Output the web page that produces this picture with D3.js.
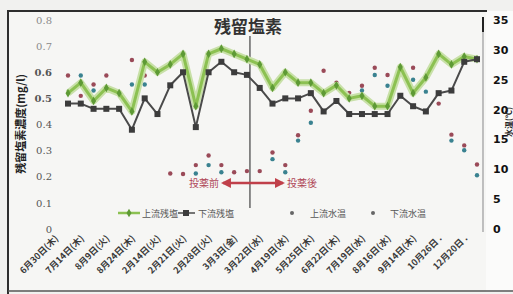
<!DOCTYPE html>
<html>
<head>
<meta charset="utf-8">
<script src="https://cdn.jsdelivr.net/npm/d3@7"></script>
<style>
  html, body { margin: 0; padding: 0; background: #f1f1ef; }
  svg { display: block; }
</style>
</head>
<body>
<svg id="chart" width="513" height="294"></svg>
<script>
// tick labels, shown on every second point
var tickLabels = ["6月30日(木)", "7月14日(木)", "8月9日(火)", "8月24日(木)", "2月14日(火)", "2月21日(火)",
  "2月28日(火)", "3月3日(金)", "3月22日(水)", "4月19日(水)", "5月25日(木)", "6月22日(木)",
  "7月19日(水)", "8月16日(水)", "9月14日(木)", "10月26日 .", "12月20日 ."];

// residual chlorine (mg/l)
var chlorUp = [0.52, 0.56, 0.49, 0.54, 0.52, 0.45, 0.64, 0.60, 0.63, 0.67, 0.47, 0.67, 0.69, 0.67, 0.65, 0.63, 0.54,
  0.60, 0.56, 0.56, 0.52, 0.55, 0.50, 0.51, 0.47, 0.47, 0.62, 0.52, 0.58, 0.67, 0.63, 0.66, 0.65];
var chlorDown = [0.48, 0.48, 0.46, 0.46, 0.46, 0.38, 0.50, 0.44, 0.55, 0.60, 0.39, 0.60, 0.64, 0.60, 0.59, 0.54, 0.48,
  0.50, 0.50, 0.52, 0.45, 0.49, 0.44, 0.44, 0.44, 0.44, 0.51, 0.47, 0.45, 0.52, 0.53, 0.64, 0.65];

// water temperature (deg C), null = not measured
var tempUp = [25.7, 22.3, 24.2, 25.7, null, 28.3, 25.7, null, 9.3, 9.2, 10.7, 12.3, 10.7, 9.5, 9.7, 9.7, 12.8,
  10.7, 15.7, 19.8, 26.5, 24.5, 22.8, 24.0, 27.0, 25.8, null, 27.0, null, 21.0, 15.8, 14.0, 10.8];
var tempDown = [null, 25.7, 23.2, null, null, 24.2, 24.2, null, null, null, 9.3, 10.7, 9.5, null, null, null, 11.7,
  9.5, 14.8, 17.8, null, null, null, 23.2, 25.8, 24.0, null, 25.0, 23.0, null, 14.8, 13.2, 9.0];

var leftTicks = [0, 0.1, 0.2, 0.3, 0.4, 0.5, 0.6, 0.7, 0.8];
var rightTicks = [0, 5, 10, 15, 20, 25, 30, 35];
var dosingIndex = 14; // 3月3日

var svg = d3.select("#chart");

// frame
svg.append("rect").attr("x", 8).attr("y", 11).attr("width", 505).attr("height", 281).attr("fill", "#f6f6f4");
svg.append("rect").attr("x", 486).attr("y", 11).attr("width", 27).attr("height", 281).attr("fill", "#fbfbfa");
svg.append("path").attr("d", "M8,294 V11 H487").attr("fill", "none").attr("stroke", "#2e2e2e").attr("stroke-width", 2);
svg.append("line").attr("x1", 8).attr("x2", 513).attr("y1", 291).attr("y2", 291).attr("stroke", "#555").attr("stroke-width", 1.5);

var idx = d3.range(chlorUp.length);
var x = d3.scalePoint().domain(idx).range([68, 477]);
var yL = d3.scaleLinear().domain([0, 0.8]).range([229, 20]);
var yR = d3.scaleLinear().domain([0, 35]).range([229, 20]);

// left axis
var axL = svg.append("g").attr("transform", "translate(56,0)")
  .call(d3.axisLeft(yL).tickValues(leftTicks).tickSize(0).tickPadding(4)
    .tickFormat(function (d) { return d === 0 ? "0" : d3.format(".1f")(d); }));
axL.select(".domain").remove();
axL.selectAll("text").attr("font-family", "'DejaVu Serif', serif").attr("font-size", 10)
  .attr("fill", function (d) { return d >= 0.7 ? "#8a8a8a" : "#555"; })
  .attr("font-weight", function (d) { return d === 0.5 || d === 0.6 ? "bold" : "normal"; });

svg.append("text").attr("transform", "translate(25,124) rotate(-90)")
  .attr("text-anchor", "middle").attr("font-family", "'Noto Sans CJK JP', sans-serif")
  .attr("font-size", 11).attr("font-weight", "bold").attr("fill", "#222")
  .text("残留塩素濃度(mg/l)");

// right axis
svg.append("line").attr("x1", 483).attr("x2", 483).attr("y1", 18).attr("y2", 232).attr("stroke", "#9a9a9a").attr("stroke-width", 1.2);
svg.append("line").attr("x1", 483).attr("x2", 483).attr("y1", 17).attr("y2", 32).attr("stroke", "#222").attr("stroke-width", 2);
var axR = svg.append("g").attr("transform", "translate(489,0)")
  .call(d3.axisRight(yR).tickValues(rightTicks).tickSize(0).tickPadding(4));
axR.select(".domain").remove();
axR.selectAll("text").attr("font-family", "'DejaVu Sans', sans-serif").attr("font-size", 11)
  .attr("font-weight", "bold").attr("fill", "#111");

svg.append("text").attr("transform", "translate(512,122) rotate(-90)")
  .attr("text-anchor", "middle").attr("font-family", "'Noto Sans CJK JP', sans-serif")
  .attr("font-size", 8).attr("font-weight", "bold").attr("fill", "#222")
  .text("水温(℃)");

// x tick labels
svg.append("g").selectAll("text").data(tickLabels).join("text")
  .attr("transform", function (d, i) { return "translate(" + (x(i * 2) - 9) + ",239) rotate(-45)"; })
  .attr("text-anchor", "end").attr("font-family", "'Noto Sans CJK JP', sans-serif")
  .attr("font-size", 9).attr("font-weight", "bold").attr("fill", "#3a3a3a")
  .text(function (d) { return d; });

// title
svg.append("text").attr("x", 248).attr("y", 33).attr("text-anchor", "middle")
  .attr("font-family", "'Noto Sans CJK JP', sans-serif").attr("font-size", 17).attr("font-weight", "bold")
  .attr("fill", "#333").text("残留塩素");

// dosing marker line
svg.append("line").attr("x1", x(dosingIndex) + 3).attr("x2", x(dosingIndex) + 3).attr("y1", 36).attr("y2", 208)
  .attr("stroke", "#666").attr("stroke-width", 1.5);

// water temperature points
function tempDots(data, color) {
  svg.append("g").selectAll("circle").data(idx.filter(function (i) { return data[i] != null; })).join("circle")
    .attr("cx", function (i) { return x(i); })
    .attr("cy", function (i) { return yR(data[i]); })
    .attr("r", 2.2).attr("fill", color);
}
tempDots(tempUp, "#9a4a58");
tempDots(tempDown, "#3a8290");

// upstream chlorine
var lineL = d3.line().x(function (d, i) { return x(i); }).y(function (d) { return yL(d); });
svg.append("path").datum(chlorUp).attr("d", lineL).attr("fill", "none")
  .attr("stroke", "#c8e0a8").attr("stroke-width", 7).attr("stroke-linejoin", "round");
svg.append("path").datum(chlorUp).attr("d", lineL).attr("fill", "none")
  .attr("stroke", "#8cc152").attr("stroke-width", 3).attr("stroke-linejoin", "round");
svg.append("g").selectAll("path").data(chlorUp).join("path")
  .attr("d", d3.symbol(d3.symbolDiamond, 22))
  .attr("transform", function (d, i) { return "translate(" + x(i) + "," + yL(d) + ")"; })
  .attr("fill", "#5e9a35");

// downstream chlorine
svg.append("path").datum(chlorDown).attr("d", lineL).attr("fill", "none")
  .attr("stroke", "#4a4a4a").attr("stroke-width", 2).attr("stroke-linejoin", "round");
svg.append("g").selectAll("rect").data(chlorDown).join("rect")
  .attr("x", function (d, i) { return x(i) - 3; })
  .attr("y", function (d) { return yL(d) - 3; })
  .attr("width", 6).attr("height", 6).attr("fill", "#3c3c3c");

// before / after dosing arrow
var arrowY = 183;
svg.append("defs").html(
  '<marker id="ah" viewBox="0 0 10 10" refX="8" refY="5" markerWidth="4" markerHeight="4" orient="auto-start-reverse">' +
  '<path d="M0,0 L10,5 L0,10 z" fill="#c0404a"/></marker>');
svg.append("line").attr("x1", x(dosingIndex) - 24).attr("x2", x(dosingIndex) + 36)
  .attr("y1", arrowY).attr("y2", arrowY).attr("stroke", "#c0404a").attr("stroke-width", 2.5)
  .attr("marker-start", "url(#ah)").attr("marker-end", "url(#ah)");
svg.append("text").attr("x", x(dosingIndex) - 28).attr("y", arrowY + 4).attr("text-anchor", "end")
  .attr("font-family", "'Noto Sans CJK JP', sans-serif").attr("font-size", 10).attr("fill", "#b04858").text("投薬前");
svg.append("text").attr("x", x(dosingIndex) + 40).attr("y", arrowY + 4).attr("text-anchor", "start")
  .attr("font-family", "'Noto Sans CJK JP', sans-serif").attr("font-size", 10).attr("fill", "#b04858").text("投薬後");

// legend
var lg = svg.append("g").attr("font-family", "'Noto Sans CJK JP', sans-serif").attr("font-size", 9).attr("fill", "#555");
lg.append("line").attr("x1", 118).attr("x2", 140).attr("y1", 213).attr("y2", 213).attr("stroke", "#8cc152").attr("stroke-width", 2.5);
lg.append("path").attr("d", d3.symbol(d3.symbolDiamond, 22)).attr("transform", "translate(129,213)").attr("fill", "#5e9a35");
lg.append("text").attr("x", 142).attr("y", 216.5).text("上流残塩");
lg.append("line").attr("x1", 178).attr("x2", 195).attr("y1", 213).attr("y2", 213).attr("stroke", "#4a4a4a").attr("stroke-width", 1.5);
lg.append("rect").attr("x", 183).attr("y", 210).attr("width", 6).attr("height", 6).attr("fill", "#3c3c3c");
lg.append("text").attr("x", 198).attr("y", 216.5).text("下流残塩");
lg.append("circle").attr("cx", 292).attr("cy", 213).attr("r", 2).attr("fill", "#666");
lg.append("text").attr("x", 310).attr("y", 216.5).text("上流水温");
lg.append("circle").attr("cx", 373).attr("cy", 213).attr("r", 2).attr("fill", "#666");
lg.append("text").attr("x", 390).attr("y", 216.5).text("下流水温");
</script>
</body>
</html>
